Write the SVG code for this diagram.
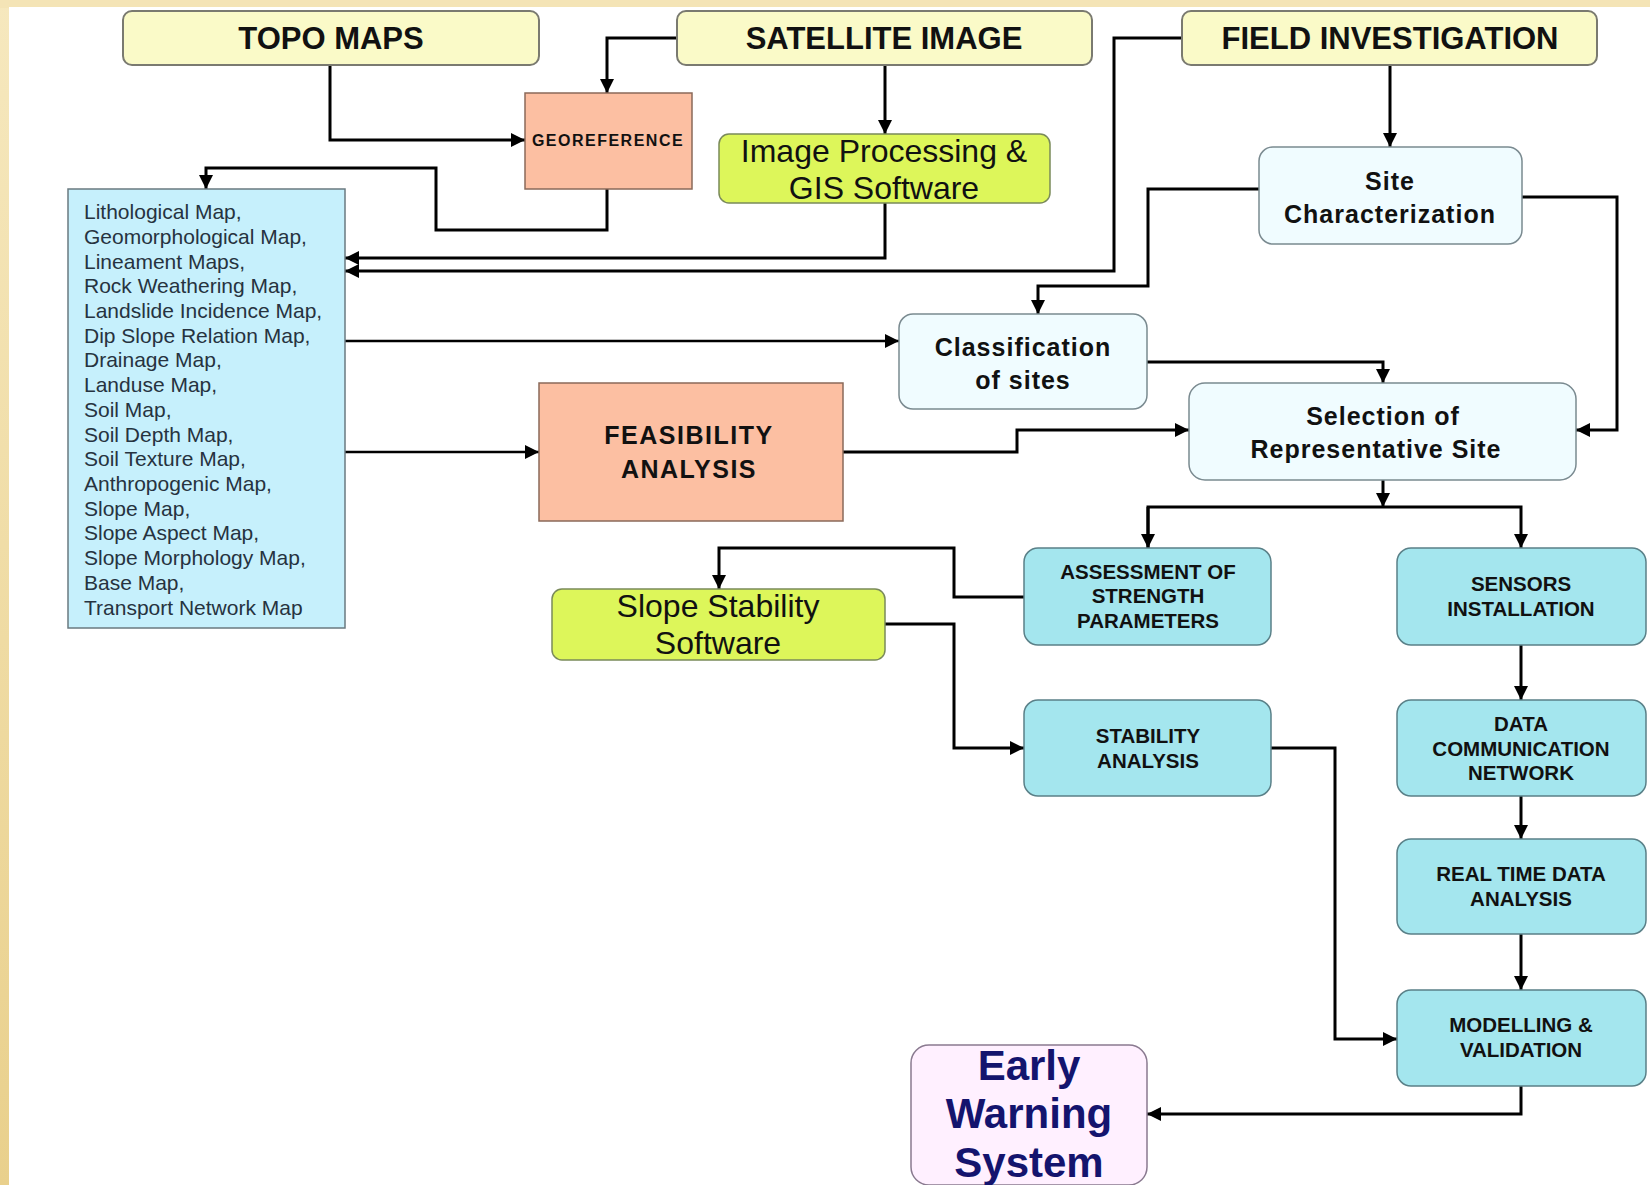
<svg xmlns="http://www.w3.org/2000/svg" width="1650" height="1185" viewBox="0 0 1650 1185">
<style>
.yl{fill:#fafac8;stroke:#7a7a70;stroke-width:2}
.sal{fill:#fcbfa2;stroke:#8a6a5a;stroke-width:1.5}
.lime{fill:#ddf65a;stroke:#7a8a5a;stroke-width:1.5}
.pale{fill:#f0fcff;stroke:#7a8a90;stroke-width:1.5}
.cy{fill:#a4e6ee;stroke:#5a8088;stroke-width:1.5}
.lb{fill:#c6f0fc;stroke:#6a7a80;stroke-width:1.5}
.ew{fill:#fff0ff;stroke:#8a7a90;stroke-width:1.5}
text{font-family:"Liberation Sans",Arial,sans-serif;text-anchor:middle;fill:#111}
.h{font-size:31px;font-weight:bold}
.geo{font-size:16px;font-weight:bold;letter-spacing:1.5px}
.sw{font-size:32px}
.pb{font-size:25px;font-weight:bold;letter-spacing:1px}
.fb{font-size:25px;font-weight:bold;letter-spacing:1.5px}
.cb{font-size:20.5px;font-weight:bold}
.ls{font-size:21px;text-anchor:start;fill:#263340}
.ewt{font-size:42px;font-weight:bold;fill:#14146e}
.c{fill:none;stroke:#000;stroke-width:3}
</style>
<defs>
<linearGradient id="bgg" x1="0" y1="0" x2="0" y2="1">
<stop offset="0" stop-color="#f6e8be"/>
<stop offset="1" stop-color="#e9d08c"/>
</linearGradient>
<marker id="ar" markerUnits="userSpaceOnUse" markerWidth="16" markerHeight="14" refX="14" refY="7" orient="auto">
<path d="M0,0 L14,7 L0,14 Z" fill="#000"/>
</marker>
</defs>
<rect x="0" y="0" width="1650" height="1185" fill="url(#bgg)"/>
<rect x="0" y="0" width="1650" height="8" fill="#f4e4b6"/>
<rect x="9" y="7" width="1641" height="1178" fill="#fff"/>

<g id="connectors">
<path class="c" d="M677,38 H607 V93" marker-end="url(#ar)"/>
<path class="c" d="M330,65 V140 H525" marker-end="url(#ar)"/>
<path class="c" d="M607,189 V230 H436 V168 H206 V189" marker-end="url(#ar)"/>
<path class="c" d="M885,65 V134" marker-end="url(#ar)"/>
<path class="c" d="M885,203 V258 H345" marker-end="url(#ar)"/>
<path class="c" d="M1182,38 H1114 V271 H345" marker-end="url(#ar)"/>
<path class="c" d="M1390,65 V147" marker-end="url(#ar)"/>
<path class="c" d="M1259,189 H1148 V286 H1038 V314" marker-end="url(#ar)"/>
<path class="c" d="M1522,197 H1617 V430 H1576" marker-end="url(#ar)"/>
<path class="c" d="M345,341 H899" marker-end="url(#ar)" style="stroke-width:2.5"/>
<path class="c" d="M1147,362 H1383 V383" marker-end="url(#ar)"/>
<path class="c" d="M345,452 H539" marker-end="url(#ar)" style="stroke-width:2.5"/>
<path class="c" d="M843,452 H1017 V430 H1189" marker-end="url(#ar)"/>
<path class="c" d="M1383,480 V507" marker-end="url(#ar)"/>
<path class="c" d="M1148,548 V507 H1521 V548" marker-end="url(#ar)"/>
<path class="c" d="M1148,507 V548" marker-end="url(#ar)"/>
<path class="c" d="M1024,597 H954 V548 H719 V589" marker-end="url(#ar)"/>
<path class="c" d="M885,624 H954 V748 H1024" marker-end="url(#ar)"/>
<path class="c" d="M1521,645 V700" marker-end="url(#ar)"/>
<path class="c" d="M1521,796 V839" marker-end="url(#ar)"/>
<path class="c" d="M1521,934 V990" marker-end="url(#ar)"/>
<path class="c" d="M1271,748 H1335 V1039 H1397" marker-end="url(#ar)"/>
<path class="c" d="M1521,1086 V1114 H1147" marker-end="url(#ar)"/>
</g>

<g id="topo"><rect class="yl" x="123" y="11" width="416" height="54" rx="9"/><text class="h" x="331" y="49">TOPO MAPS</text></g>
<g id="satellite"><rect class="yl" x="677" y="11" width="415" height="54" rx="9"/><text class="h" x="884" y="49">SATELLITE IMAGE</text></g>
<g id="field"><rect class="yl" x="1182" y="11" width="415" height="54" rx="9"/><text class="h" x="1390" y="49">FIELD INVESTIGATION</text></g>
<g id="georef"><rect class="sal" x="525" y="93" width="167" height="96"/><text class="geo" x="608" y="146">GEOREFERENCE</text></g>
<g id="imgproc"><rect class="lime" x="719" y="134" width="331" height="69" rx="10"/><text class="sw" x="884" y="162">Image Processing &amp;</text><text class="sw" x="884" y="199">GIS Software</text></g>
<g id="sitechar"><rect class="pale" x="1259" y="147" width="263" height="97" rx="14"/><text class="pb" x="1390" y="190">Site</text><text class="pb" x="1390" y="223">Characterization</text></g>
<g id="maps"><rect class="lb" x="68" y="189" width="277" height="439"/>
<text class="ls" x="84" y="219">Lithological Map,</text>
<text class="ls" x="84" y="244">Geomorphological Map,</text>
<text class="ls" x="84" y="269">Lineament Maps,</text>
<text class="ls" x="84" y="293">Rock Weathering Map,</text>
<text class="ls" x="84" y="318">Landslide Incidence Map,</text>
<text class="ls" x="84" y="343">Dip Slope Relation Map,</text>
<text class="ls" x="84" y="367">Drainage Map,</text>
<text class="ls" x="84" y="392">Landuse Map,</text>
<text class="ls" x="84" y="417">Soil Map,</text>
<text class="ls" x="84" y="442">Soil Depth Map,</text>
<text class="ls" x="84" y="466">Soil Texture Map,</text>
<text class="ls" x="84" y="491">Anthropogenic Map,</text>
<text class="ls" x="84" y="516">Slope Map,</text>
<text class="ls" x="84" y="540">Slope Aspect Map,</text>
<text class="ls" x="84" y="565">Slope Morphology Map,</text>
<text class="ls" x="84" y="590">Base Map,</text>
<text class="ls" x="84" y="615">Transport Network Map</text>
</g>
<g id="classification"><rect class="pale" x="899" y="314" width="248" height="95" rx="14"/><text class="pb" x="1023" y="356">Classification</text><text class="pb" x="1023" y="389">of sites</text></g>
<g id="selection"><rect class="pale" x="1189" y="383" width="387" height="97" rx="16"/><text class="pb" x="1383" y="425">Selection of</text><text class="pb" x="1376" y="458">Representative Site</text></g>
<g id="feasibility"><rect class="sal" x="539" y="383" width="304" height="138"/><text class="fb" x="689" y="444">FEASIBILITY</text><text class="fb" x="689" y="478">ANALYSIS</text></g>
<g id="slopesw"><rect class="lime" x="552" y="589" width="333" height="71" rx="10"/><text class="sw" x="718" y="617">Slope Stability</text><text class="sw" x="718" y="654">Software</text></g>
<g id="assessment"><rect class="cy" x="1024" y="548" width="247" height="97" rx="14"/><text class="cb" x="1148" y="579">ASSESSMENT OF</text><text class="cb" x="1148" y="603">STRENGTH</text><text class="cb" x="1148" y="628">PARAMETERS</text></g>
<g id="sensors"><rect class="cy" x="1397" y="548" width="249" height="97" rx="14"/><text class="cb" x="1521" y="591">SENSORS</text><text class="cb" x="1521" y="616">INSTALLATION</text></g>
<g id="stability"><rect class="cy" x="1024" y="700" width="247" height="96" rx="14"/><text class="cb" x="1148" y="743">STABILITY</text><text class="cb" x="1148" y="768">ANALYSIS</text></g>
<g id="datacomm"><rect class="cy" x="1397" y="700" width="249" height="96" rx="14"/><text class="cb" x="1521" y="731">DATA</text><text class="cb" x="1521" y="756">COMMUNICATION</text><text class="cb" x="1521" y="780">NETWORK</text></g>
<g id="realtime"><rect class="cy" x="1397" y="839" width="249" height="95" rx="14"/><text class="cb" x="1521" y="881">REAL TIME DATA</text><text class="cb" x="1521" y="906">ANALYSIS</text></g>
<g id="modelling"><rect class="cy" x="1397" y="990" width="249" height="96" rx="14"/><text class="cb" x="1521" y="1032">MODELLING &amp;</text><text class="cb" x="1521" y="1057">VALIDATION</text></g>
<g id="ews"><rect class="ew" x="911" y="1045" width="236" height="140" rx="18"/><text class="ewt" x="1029" y="1080">Early</text><text class="ewt" x="1029" y="1128">Warning</text><text class="ewt" x="1029" y="1177">System</text></g>
</svg>
